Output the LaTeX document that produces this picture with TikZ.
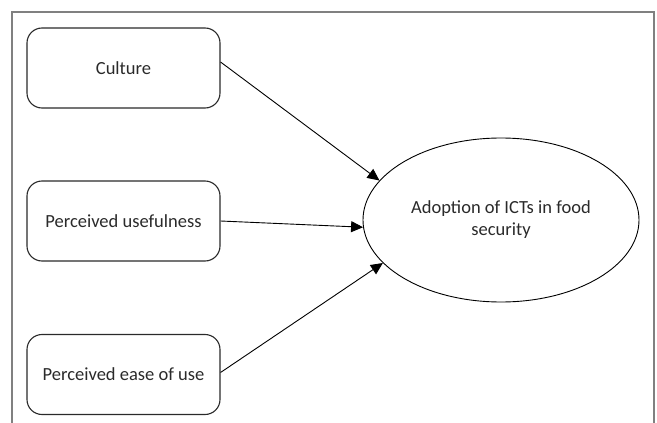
\documentclass[tikz,border=0pt]{standalone}
\usepackage{fontspec}
\setmainfont{Carlito}
\usetikzlibrary{shapes.geometric,arrows.meta}
\definecolor{framegray}{HTML}{808080}
\definecolor{inkgray}{HTML}{2A2A2A}
\tikzset{
  factor/.style={draw=inkgray, line width=1.1pt, rounded corners=15pt,
    minimum width=193pt, minimum height=80pt, inner sep=0pt,
    text=inkgray, font=\fontsize{18.5}{22}\selectfont},
  outcome/.style={draw=black, line width=0.9pt, ellipse,
    minimum width=276pt, minimum height=164pt, inner sep=0pt,
    align=center, text=inkgray, font=\fontsize{18.5}{22}\selectfont},
  link/.style={draw=black, line width=0.9pt,
    -{Triangle[length=12pt,width=11pt]}},
  frameline/.style={draw=framegray, line width=1.8pt}
}
\begin{document}
\begin{tikzpicture}[x=1pt,y=-1pt]
  \useasboundingbox (0,0) rectangle (657,423);
  % outer frame, open at the bottom
  \draw[frameline] (12,423) -- (12,12) -- (654,12) -- (654,423);

  % determinants
  \node[factor] (culture) at (123.5,68) {Culture};
  \node[factor] (useful)  at (123.5,221) {Perceived usefulness};
  \node[factor] (ease)    at (123.5,374.5) {Perceived ease of use};

  % outcome
  \node[outcome] (adopt) at (501,220) {Adoption of ICTs in food\\security};

  % paths
  \draw[link] ([yshift=6pt]culture.east) -- (adopt.162);
  \draw[link] (useful.east) -- (adopt.183);
  \draw[link] ([yshift=2pt]ease.east) -- (adopt.200);
\end{tikzpicture}
\end{document}
